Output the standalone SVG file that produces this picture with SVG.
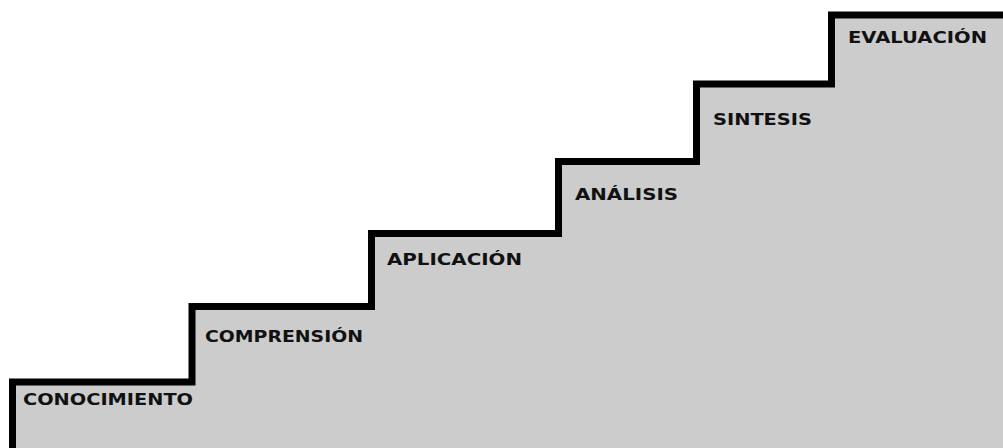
<svg xmlns="http://www.w3.org/2000/svg" width="1003" height="448" viewBox="0 0 1003 448">
<style>
.lbl{font-family:"DejaVu Sans","Liberation Sans",sans-serif;font-weight:bold;font-size:16px;fill:#111;}
.step{fill:#cccccc;stroke:none;}
.edge{fill:none;stroke:#000;stroke-width:7;stroke-linejoin:miter;stroke-linecap:butt;}
</style>
<rect width="1003" height="448" fill="#ffffff"/>
<g id="stairs">
<path class="step" d="M12.5,448 V382 H192 V306.5 H371.5 V233.5 H558.5 V161.5 H696.5 V84 H831.5 V15 H1003 V448 Z"/>
<path class="edge" d="M12.5,448 V382 H192 V306.5 H371.5 V233.5 H558.5 V161.5 H696.5 V84 H831.5 V15 H1006"/>
</g>
<g id="conocimiento"><text class="lbl" x="23" y="405" textLength="170" lengthAdjust="spacingAndGlyphs">CONOCIMIENTO</text></g>
<g id="comprension"><text class="lbl" x="205" y="342" textLength="158" lengthAdjust="spacingAndGlyphs">COMPRENSIÓN</text></g>
<g id="aplicacion"><text class="lbl" x="387" y="265" textLength="135" lengthAdjust="spacingAndGlyphs">APLICACIÓN</text></g>
<g id="analisis"><text class="lbl" x="575" y="200" textLength="103" lengthAdjust="spacingAndGlyphs">ANÁLISIS</text></g>
<g id="sintesis"><text class="lbl" x="713" y="125" textLength="99" lengthAdjust="spacingAndGlyphs">SINTESIS</text></g>
<g id="evaluacion"><text class="lbl" x="848" y="43" textLength="139" lengthAdjust="spacingAndGlyphs">EVALUACIÓN</text></g>
</svg>
